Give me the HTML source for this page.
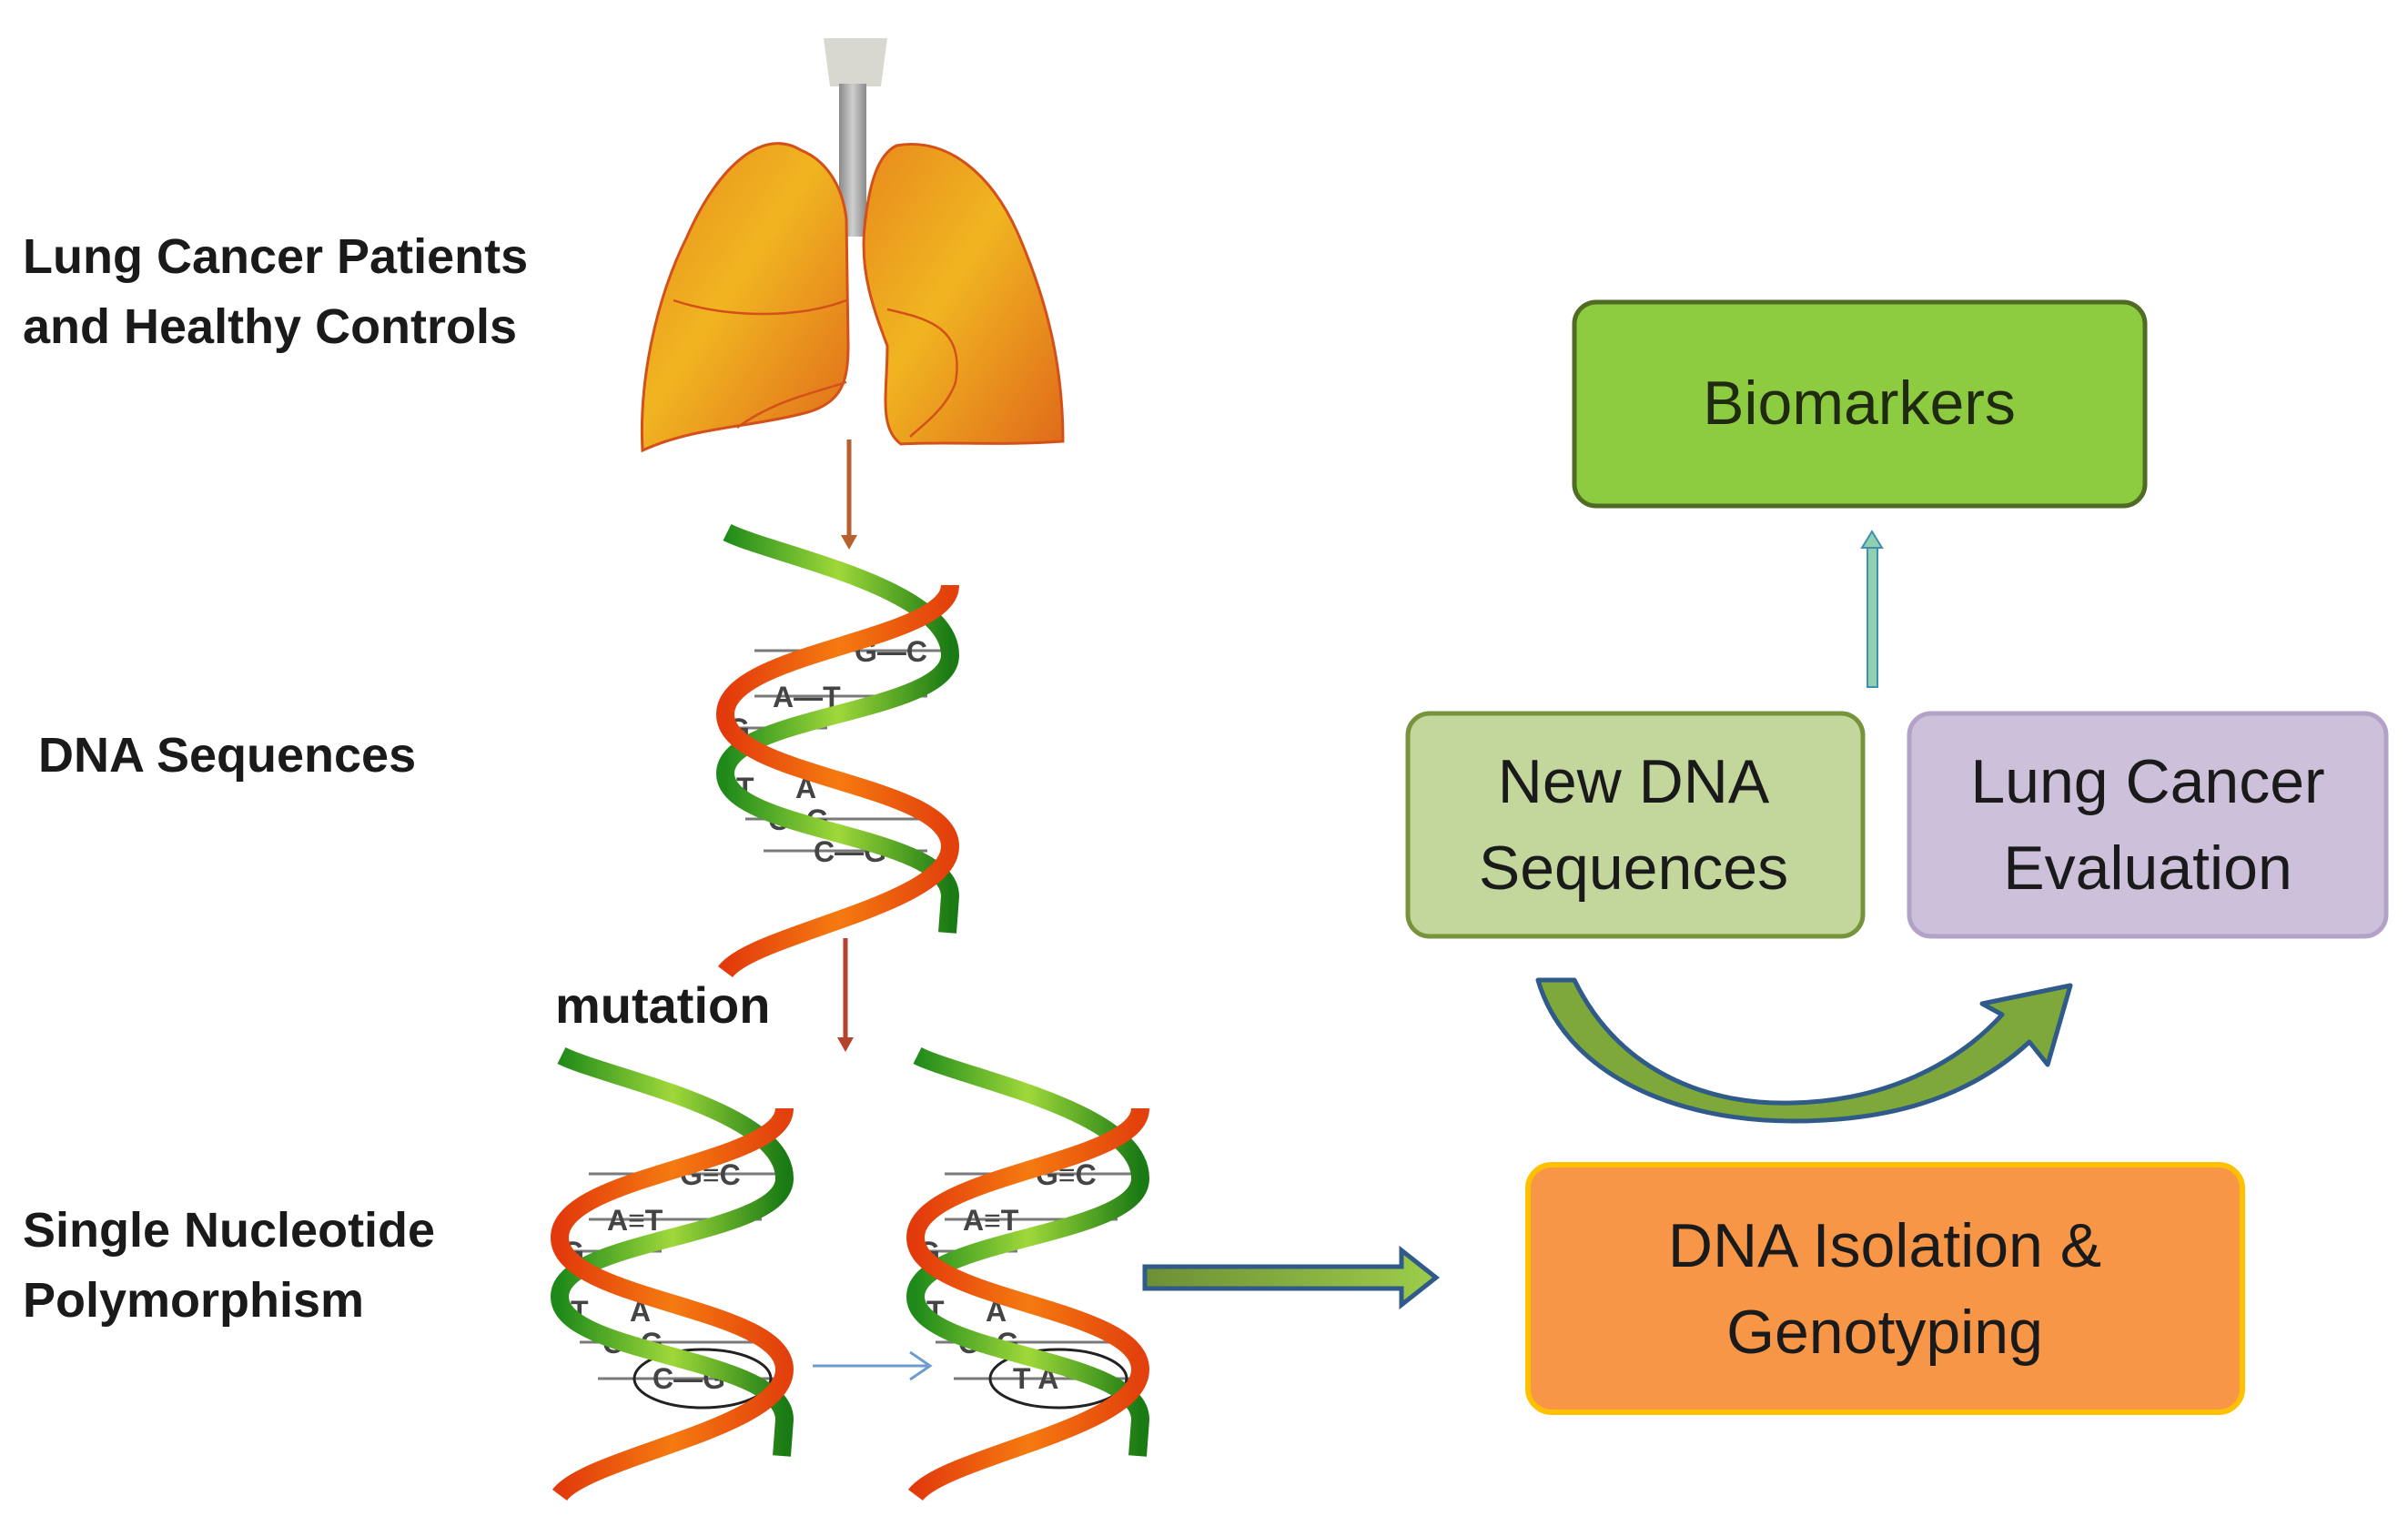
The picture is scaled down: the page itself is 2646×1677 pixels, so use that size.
<!DOCTYPE html>
<html><head><meta charset="utf-8"><style>
html,body{margin:0;padding:0;background:#fff;}
body{width:2646px;height:1677px;overflow:hidden;position:relative;font-family:"Liberation Sans",sans-serif;}
svg{position:absolute;left:0;top:0;}
</style></head><body>
<svg width="2646" height="1677" viewBox="0 0 2646 1677" xmlns="http://www.w3.org/2000/svg">
<defs>
<linearGradient id="lung" x1="0" y1="0" x2="1" y2="1">
<stop offset="0" stop-color="#e88a1c"/><stop offset="0.45" stop-color="#f0b521"/><stop offset="1" stop-color="#e06a1a"/></linearGradient>
<linearGradient id="trach" x1="0" x2="1"><stop offset="0" stop-color="#8a8a8a"/><stop offset="0.5" stop-color="#cfcfcf"/><stop offset="1" stop-color="#8a8a8a"/></linearGradient>
<linearGradient id="grn" x1="0" y1="0" x2="1" y2="0"><stop offset="0" stop-color="#1f8a1a"/><stop offset="0.5" stop-color="#9fd83a"/><stop offset="1" stop-color="#1a7a14"/></linearGradient>
<linearGradient id="red" x1="0" y1="0" x2="1" y2="0"><stop offset="0" stop-color="#e23a0c"/><stop offset="0.5" stop-color="#f57a10"/><stop offset="1" stop-color="#e2400c"/></linearGradient>
<linearGradient id="bigarr" x1="0" y1="0" x2="1" y2="0"><stop offset="0" stop-color="#6d8f35"/><stop offset="1" stop-color="#9ccd4a"/></linearGradient>
</defs>

<g font-weight="bold" font-size="54" fill="#1a1a1a">
<text x="25" y="300">Lung Cancer Patients</text>
<text x="25" y="377">and Healthy Controls</text>
<text x="42" y="848">DNA Sequences</text>
<text x="25" y="1370">Single Nucleotide</text>
<text x="25" y="1447">Polymorphism</text>
<text x="610" y="1124" font-size="56">mutation</text>
</g>

<g>
<path d="M905,42 L975,42 L968,95 L912,95 Z" fill="#d8d8d0"/>
<rect x="922" y="92" width="30" height="168" fill="url(#trach)"/>
<path d="M880,165 C840,140 790,180 755,260 C720,330 702,420 706,495 C760,470 820,470 880,455 C925,445 932,420 932,380 L930,240 C925,200 905,175 880,165 Z" fill="url(#lung)" stroke="#d4501a" stroke-width="3"/>
<path d="M740,330 C800,350 880,350 930,330 M810,470 C850,440 900,430 930,420" fill="none" stroke="#d4501a" stroke-width="2.5"/>
<path d="M985,160 C1040,150 1090,190 1120,260 C1150,330 1168,400 1168,485 C1100,490 1040,485 990,488 C965,470 975,430 975,380 C960,340 945,300 950,250 C955,200 965,170 985,160 Z" fill="url(#lung)" stroke="#d4501a" stroke-width="3"/>
<path d="M975,340 C1020,350 1060,360 1050,420 C1040,450 1010,470 1000,480" fill="none" stroke="#d4501a" stroke-width="2.5"/>
</g>

<g stroke="#b5622c" stroke-width="5" fill="#b5622c">
<line x1="933" y1="483" x2="933" y2="590"/>
<path d="M924,588 L933,604 L942,588 Z" stroke="none"/>
</g>
<g stroke="#b5422c" stroke-width="5" fill="#b5422c">
<line x1="929" y1="1031" x2="929" y2="1142"/>
<path d="M920,1140 L929,1156 L938,1140 Z" stroke="none"/>
</g>

<g transform="translate(789,585)">
<g stroke="#7a7a7a" stroke-width="3"><line x1="40" y1="130" x2="250" y2="130"/><line x1="40" y1="180" x2="230" y2="180"/><line x1="15" y1="215" x2="120" y2="215"/><line x1="30" y1="315" x2="250" y2="315"/><line x1="50" y1="350" x2="230" y2="350"/></g>
<g font-size="32" fill="#444" font-weight="bold"><text x="150" y="142">G—C</text><text x="60" y="192">A—T</text><text x="10" y="227">G</text><text x="20" y="292">T</text><text x="85" y="292">A</text><text x="55" y="327">C=G</text><text x="105" y="362">C—G</text></g>
<path d="M10,0 C60,25 255,60 255,135 C255,200 8,200 8,265 C8,330 255,330 255,400 L252,440" fill="none" stroke="url(#grn)" stroke-width="20"/>
<path d="M255,58 C255,120 8,130 8,200 C8,270 255,275 255,345 C255,410 40,440 8,483" fill="none" stroke="url(#red)" stroke-width="20"/>
</g>

<g transform="translate(607,1160)">
<g stroke="#7a7a7a" stroke-width="3"><line x1="40" y1="130" x2="250" y2="130"/><line x1="40" y1="180" x2="230" y2="180"/><line x1="15" y1="215" x2="120" y2="215"/><line x1="30" y1="315" x2="250" y2="315"/><line x1="50" y1="355" x2="250" y2="355"/></g>
<g font-size="32" fill="#444" font-weight="bold"><text x="140" y="142">G≡C</text><text x="60" y="192">A≡T</text><text x="10" y="227">G</text><text x="20" y="292">T</text><text x="85" y="292">A</text><text x="55" y="327">C≡G</text><text x="110" y="366">C—G</text></g>
<ellipse cx="165" cy="355" rx="75" ry="32" fill="none" stroke="#222" stroke-width="3"/>
<path d="M10,0 C60,25 255,60 255,135 C255,200 8,200 8,265 C8,330 255,330 255,400 L252,440" fill="none" stroke="url(#grn)" stroke-width="20"/>
<path d="M255,58 C255,120 8,130 8,200 C8,270 255,275 255,345 C255,410 40,440 8,483" fill="none" stroke="url(#red)" stroke-width="20"/>
</g>

<g transform="translate(998,1160)">
<g stroke="#7a7a7a" stroke-width="3"><line x1="40" y1="130" x2="250" y2="130"/><line x1="40" y1="180" x2="230" y2="180"/><line x1="15" y1="215" x2="120" y2="215"/><line x1="30" y1="315" x2="250" y2="315"/><line x1="50" y1="355" x2="250" y2="355"/></g>
<g font-size="32" fill="#444" font-weight="bold"><text x="140" y="142">G≡C</text><text x="60" y="192">A≡T</text><text x="10" y="227">G</text><text x="20" y="292">T</text><text x="85" y="292">A</text><text x="55" y="327">C≡G</text><text x="115" y="366">T  A</text></g>
<ellipse cx="165" cy="355" rx="75" ry="32" fill="none" stroke="#222" stroke-width="3"/>
<path d="M10,0 C60,25 255,60 255,135 C255,200 8,200 8,265 C8,330 255,330 255,400 L252,440" fill="none" stroke="url(#grn)" stroke-width="20"/>
<path d="M255,58 C255,120 8,130 8,200 C8,270 255,275 255,345 C255,410 40,440 8,483" fill="none" stroke="url(#red)" stroke-width="20"/>
</g>

<g stroke="#6f9ccf" stroke-width="3" fill="none">
<line x1="893" y1="1501" x2="1020" y2="1501"/><path d="M1000,1486 L1022,1501 L1000,1516"/>
</g>

<path d="M1258,1392 L1540,1392 L1540,1374 L1578,1404 L1540,1434 L1540,1416 L1258,1416 Z" fill="url(#bigarr)" stroke="#2f5a8a" stroke-width="5"/>

<rect x="1730" y="332" width="627" height="224" rx="24" fill="#8dcb41" stroke="#4f6b24" stroke-width="5"/>
<text x="2043" y="466" text-anchor="middle" font-size="68" fill="#1f2a10">Biomarkers</text>

<rect x="1547" y="784" width="500" height="245" rx="24" fill="#c3d69b" stroke="#77933c" stroke-width="5"/>
<text x="1795" y="882" text-anchor="middle" font-size="68" fill="#1a1a1a">New DNA</text>
<text x="1795" y="977" text-anchor="middle" font-size="68" fill="#1a1a1a">Sequences</text>

<rect x="2098" y="784" width="524" height="245" rx="24" fill="#ccc0da" stroke="#b3a2c7" stroke-width="5"/>
<text x="2360" y="882" text-anchor="middle" font-size="68" fill="#1a1a1a">Lung Cancer</text>
<text x="2360" y="977" text-anchor="middle" font-size="68" fill="#1a1a1a">Evaluation</text>

<rect x="1679" y="1280" width="785" height="272" rx="26" fill="#f79646" stroke="#ffc000" stroke-width="6"/>
<text x="2071" y="1392" text-anchor="middle" font-size="68" fill="#1a1a1a">DNA Isolation &amp;</text>
<text x="2071" y="1487" text-anchor="middle" font-size="68" fill="#1a1a1a">Genotyping</text>

<g>
<rect x="2052" y="600" width="11" height="155" fill="#8fd0b0" stroke="#3e8fb0" stroke-width="2"/>
<path d="M2046,602 L2057,584 L2068,602 Z" fill="#8fd0b0" stroke="#3e8fb0" stroke-width="2"/>
</g>

<path d="M1690,1077 L1730,1077 C1780,1180 1880,1215 1970,1212 C2070,1210 2150,1170 2200,1115 L2178,1103 L2275,1083 L2250,1170 L2230,1145 C2160,1210 2070,1232 1970,1232 C1840,1232 1720,1180 1690,1077 Z" fill="#7fa83a" stroke="#2f5a8a" stroke-width="5" stroke-linejoin="round"/>
</svg>
</body></html>
